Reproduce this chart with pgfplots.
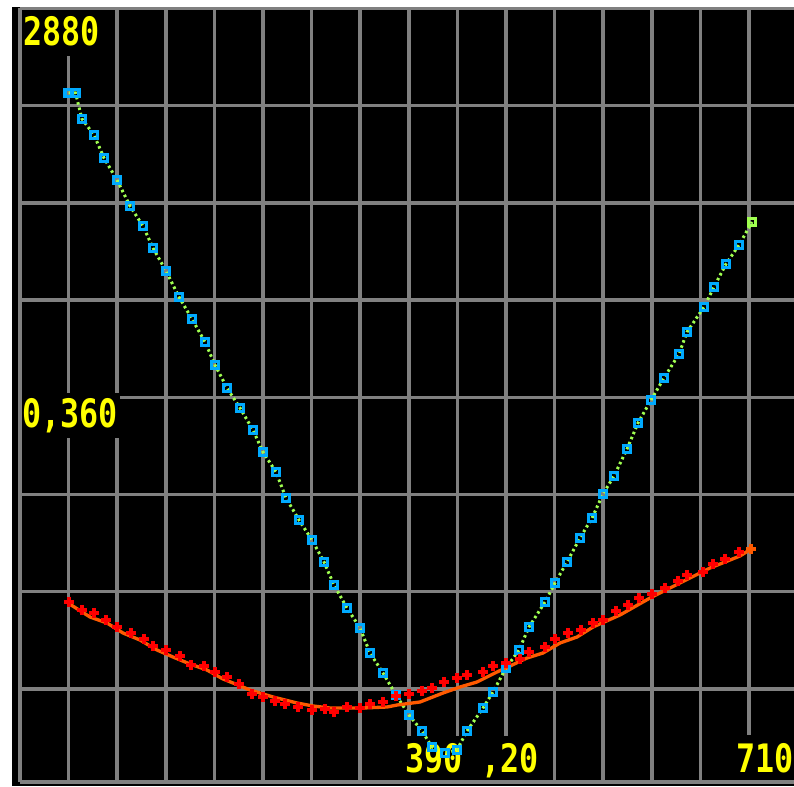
\documentclass[border=0pt]{standalone}
\usepackage{fontspec}
\usepackage{pgfplots}
\pgfplotsset{compat=1.18}
\newfontfamily\pix[FakeStretch=0.81]{DejaVu Sans Mono}
\definecolor{bluec}{RGB}{0,170,255}
\definecolor{greenc}{RGB}{160,255,80}
\definecolor{orangec}{RGB}{255,90,0}
\definecolor{redc}{RGB}{255,0,0}
\definecolor{gridc}{RGB}{128,128,128}
\definecolor{labc}{RGB}{255,255,0}
\tikzset{lbl/.style={anchor=base west, inner sep=0pt, text=labc, font=\pix\bfseries\fontsize{23.5}{24}\selectfont}}
\begin{document}
\begin{tikzpicture}
\path[use as bounding box, fill=white] (-12pt,-2.4pt) rectangle (464.4pt,469.2pt);
\fill[black] (-4.8pt,-2.4pt) rectangle (464.4pt,465pt);
\begin{axis}[
  x=0.6pt, y=0.6pt, anchor=origin, at={(0pt,0pt)},
  xmin=0, xmax=774, ymin=0, ymax=773.5,
  clip=false,
  axis line style={draw=none},
  xtick={0,48.6,97.2,145.8,194.4,243,291.6,340.2,388.8,437.4,486,534.6,583.2,631.8,680.4,729},
  ytick={0,93.1,190.3,287.5,384.7,481.9,579.1,676.3,773.5},
  xticklabels={}, yticklabels={},
  major tick length=0pt, tick style={draw=none},
  grid=major,
  grid style={draw=gridc, line width=2.15pt},
]
% label boxes (cover the grid)
\fill[black] (2,771.5) rectangle (90,726);
\fill[black] (2,389) rectangle (99.5,344);
\fill[black] (375,46) rectangle (530,2);
\fill[black] (715,47) rectangle (774,2);
\node[lbl] at (3,736) {2880};
\node[lbl] at (2,354) {0,360};
\node[lbl] at (385,10) {390 ,20};
\node[lbl] at (716,10) {710};

% blue squares
\addplot[only marks, mark=square, mark size=2.1pt, draw=bluec, line width=2pt] coordinates {
(48.5,689) (55.5,689) (62,663) (74,647) (84,624) (97,602) (110,576) (123,556)
(133,534) (146,511) (159,485) (172,463) (185,440) (195,417) (207,394) (220,374)
(233,352) (243,330) (256,310) (266,284) (279,262) (292,242) (304,220) (314,197)
(327,174) (340,154) (350,129) (363,109) (376,87) (389,67) (402,51) (412,35)
(425,29) (437,32) (447,51) (463,74) (473,90) (486,114) (499,132) (509,155)
(525,180) (535,199) (547,220) (560,244) (572,264) (583,288) (594,306) (607,333)
(618,359) (631,382) (644,404) (659,428) (667,450) (684,475) (694,495) (706,518)
(719,537)
};
% green dotted line
\addplot[greenc, line width=1.8pt, dash pattern=on 1.5pt off 1.8pt, mark=none] coordinates {
(48.5,689) (55.5,689) (62,663) (74,647) (84,624) (97,602) (110,576) (123,556)
(133,534) (146,511) (159,485) (172,463) (185,440) (195,417) (207,394) (220,374)
(233,352) (243,330) (256,310) (266,284) (279,262) (292,242) (304,220) (314,197)
(327,174) (340,154) (350,129) (363,109) (376,87) (389,67) (402,51) (412,35)
(425,29) (437,32) (447,51) (463,74) (473,90) (486,114) (499,132) (509,155)
(525,180) (535,199) (547,220) (560,244) (572,264) (583,288) (594,306) (607,333)
(618,359) (631,382) (644,404) (659,428) (667,450) (684,475) (694,495) (706,518)
(719,537) (732,560)
};
\addplot[only marks, mark=square, mark size=2.1pt, draw=greenc, line width=2pt] coordinates {(732,560)};
% red pluses
\addplot[only marks, mark=+, mark size=3pt, draw=redc, line width=1.9pt] coordinates {
(49,180) (62,172) (74,169) (86,162) (97,155) (111,149) (124,143) (133,136)
(146,132) (160,126) (171,117) (184,116) (195,110) (207,105) (219,98) (232,88)
(243,85) (255,81) (265,78) (278,75) (292,72) (305,73) (314,70) (327,75)
(340,74) (350,78) (363,80) (376,86) (389,88) (402,91) (412,94) (424,100)
(437,104) (447,107) (463,110) (473,116) (486,119) (500,123) (509,130) (525,135)
(535,143) (548,149) (561,152) (573,159) (583,162) (596,171) (608,177) (619,184)
(632,188) (645,194) (658,201) (667,207) (683,210) (693,218) (705,223) (719,230)
};
% orange line
\addplot[orangec, line width=2pt, mark=none] coordinates {
(48,179) (70,165) (87,159) (103,149) (120,142) (137,132) (153,125) (170,118)
(187,112) (203,103) (218,97) (230,92) (253,85) (277,79) (293,76) (310,74)
(343,74) (367,75) (377,77) (400,80) (423,89) (440,95) (457,100) (477,110)
(490,116) (507,124) (523,129) (540,139) (557,145) (573,155) (600,167) (630,184)
(660,199) (690,214) (720,226) (731,233)
};
\addplot[only marks, mark=+, mark size=3pt, draw=orangec, line width=1.9pt] coordinates {(731,233)};
\end{axis}
\end{tikzpicture}
\end{document}
